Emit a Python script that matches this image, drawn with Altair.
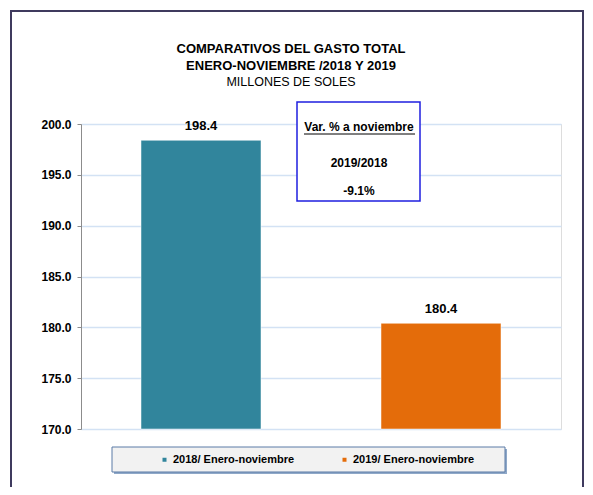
import altair as alt
import pandas as pd

categories = ["2018/ Enero-noviembre", "2019/ Enero-noviembre"]
values = [198.4, 180.4]
colors = ["#31859c", "#e46c0a"]
y_ticks = [170, 175, 180, 185, 190, 195, 200]
title_lines = ["COMPARATIVOS DEL GASTO TOTAL", "ENERO-NOVIEMBRE /2018 Y 2019", "MILLONES DE SOLES"]
box_lines = ["Var. % a noviembre", "2019/2018", "-9.1%"]

df = pd.DataFrame({"cat": categories, "val": values})
one = pd.DataFrame({"k": [0]})

FONT = "Liberation Sans"

yscale = alt.Scale(domain=[170, 200], nice=False, zero=False, clamp=True)
xscale = alt.Scale(domain=categories, paddingInner=0.5, paddingOuter=0.25)

# outer frame
frame = alt.Chart(one).mark_rect(fillOpacity=0, stroke="#3f3a5e", strokeWidth=2).encode(
    x=alt.value(-70), x2=alt.value(502), y=alt.value(-113), y2=alt.value(380)
)

t1 = alt.Chart(one).mark_text(text=title_lines[0], font=FONT, fontSize=13, fontWeight="bold",
                              align="center", baseline="alphabetic", color="black").encode(
    x=alt.value(210), y=alt.value(-71))
t2 = alt.Chart(one).mark_text(text=title_lines[1], font=FONT, fontSize=13, fontWeight="bold",
                              align="center", baseline="alphabetic", color="black").encode(
    x=alt.value(210), y=alt.value(-54))
t3 = alt.Chart(one).mark_text(text=title_lines[2], font=FONT, fontSize=12.5,
                              align="center", baseline="alphabetic", color="black").encode(
    x=alt.value(210), y=alt.value(-38))

bars = alt.Chart(df).mark_bar(stroke="white", strokeWidth=0.5).encode(
    x=alt.X("cat:N", scale=xscale, axis=None, sort=categories),
    y=alt.Y("val:Q", scale=yscale, title=None,
            axis=alt.Axis(values=y_ticks, format=".1f", labelFont=FONT, labelFontSize=12,
                          labelFontWeight="bold", labelColor="black", labelPadding=6,
                          domainColor="#8c8c8c", tickColor="#8c8c8c", tickSize=4,
                          gridColor="#d3e2f4", gridWidth=1.5)),
    y2=alt.datum(170),
    color=alt.Color("cat:N", scale=alt.Scale(domain=categories, range=colors), sort=categories,
                    legend=alt.Legend(orient="none", legendX=78, legendY=330, direction="horizontal",
                                      title=None, symbolType="square", symbolSize=16,
                                      symbolStrokeWidth=0, labelFont=FONT, labelFontSize=11,
                                      labelFontWeight="bold", labelColor="black", labelOffset=3,
                                      columnPadding=44, padding=0)),
)

labels = alt.Chart(df).mark_text(font=FONT, fontSize=13, fontWeight="bold", color="black",
                                 baseline="alphabetic", dy=-10).encode(
    x=alt.X("cat:N", scale=xscale, sort=categories),
    y=alt.Y("val:Q", scale=yscale),
    text=alt.Text("val:Q", format=".1f"),
)

box = alt.Chart(one).mark_rect(fill="white", stroke="#1f1fe0", strokeWidth=1.5).encode(
    x=alt.value(216), x2=alt.value(339), y=alt.value(-22), y2=alt.value(77))
b1 = alt.Chart(one).mark_text(text=box_lines[0], font=FONT, fontSize=12, fontWeight="bold",
                              align="center", baseline="alphabetic", color="black").encode(
    x=alt.value(278), y=alt.value(7))
ul = alt.Chart(one).mark_rule(color="black", strokeWidth=1).encode(
    x=alt.value(223), x2=alt.value(334), y=alt.value(10))
b2 = alt.Chart(one).mark_text(text=box_lines[1], font=FONT, fontSize=12, fontWeight="bold",
                              align="center", baseline="alphabetic", color="black").encode(
    x=alt.value(278), y=alt.value(43))
b3 = alt.Chart(one).mark_text(text=box_lines[2], font=FONT, fontSize=12, fontWeight="bold",
                              align="center", baseline="alphabetic", color="black").encode(
    x=alt.value(278), y=alt.value(71))

legbox_shadow = alt.Chart(one).mark_rect(fill="#8fa8c8").encode(
    x=alt.value(33), x2=alt.value(426), y=alt.value(325), y2=alt.value(350))
legbox = alt.Chart(one).mark_rect(fill="#f2f2f2", stroke="#5a7aa6", strokeWidth=1).encode(
    x=alt.value(31), x2=alt.value(424), y=alt.value(323), y2=alt.value(348))

chart = alt.layer(frame, t1, t2, t3, bars, labels, box, b1, ul, b2, b3, legbox_shadow, legbox).properties(
    width=480, height=305,
    autosize=alt.AutoSizeParams(type="none"),
    padding={"left": 73, "top": 116, "right": 24, "bottom": 58},
).configure_view(stroke=None).configure(background="white")

chart.save("out.html", embed_options={"renderer": "svg", "actions": False})
